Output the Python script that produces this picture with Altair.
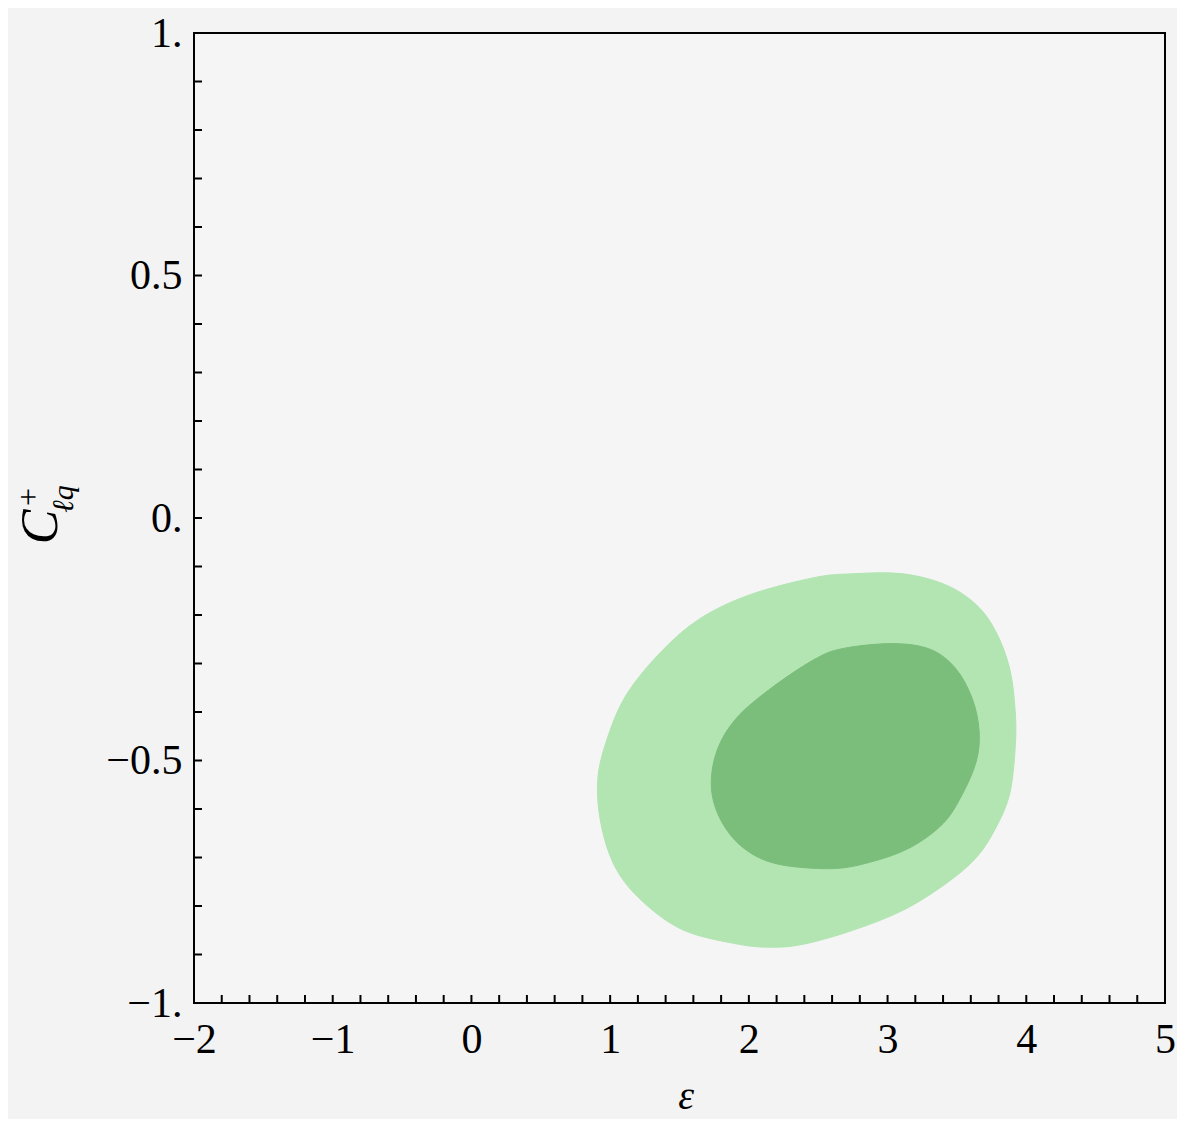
import altair as alt
import pandas as pd

# Outer (light) contour
outer_x = [2.01, 2.47, 2.75, 3.11, 3.42, 3.64, 3.78, 3.88, 3.92, 3.92, 3.88, 3.78, 3.64, 3.42,
           3.11, 2.75, 2.39, 2.14, 1.89, 1.53, 1.25, 1.05, 0.94, 0.91, 0.98, 1.12, 1.37, 1.65]
outer_y = [-0.158, -0.123, -0.115, -0.115, -0.138, -0.179, -0.234, -0.310, -0.398, -0.474,
           -0.569, -0.639, -0.700, -0.754, -0.809, -0.850, -0.879, -0.885, -0.877, -0.850,
           -0.795, -0.727, -0.639, -0.542, -0.454, -0.363, -0.275, -0.207]
# Inner (dark) contour
inner_x = [2.47, 2.68, 3.04, 3.31, 3.49, 3.61, 3.66, 3.64, 3.54, 3.40, 3.16, 2.87, 2.59, 2.20,
           1.96, 1.80, 1.73, 1.77, 1.91, 2.16]
inner_y = [-0.292, -0.269, -0.259, -0.271, -0.310, -0.372, -0.439, -0.501, -0.569, -0.630,
           -0.680, -0.710, -0.723, -0.713, -0.680, -0.624, -0.556, -0.480, -0.413, -0.351]

x_ticks = [-2, -1, 0, 1, 2, 3, 4, 5]
x_labels = ["\u22122", "\u22121", "0", "1", "2", "3", "4", "5"]
y_ticks = [-1, -0.5, 0, 0.5, 1]
y_labels = ["\u22121.", "\u22120.5", "0.", "0.5", "1."]
x_minor = [round(-2 + 0.2 * i, 2) for i in range(36)]
y_minor = [round(-1 + 0.1 * i, 2) for i in range(21)]

W, H = 971, 970
FONT = "Liberation Serif"

xs = alt.Scale(domain=[-2, 5], nice=False, zero=False)
ys = alt.Scale(domain=[-1, 1], nice=False, zero=False)

def label_expr(vals, labs):
    e = "''"
    for v, l in zip(vals, labs):
        e = f"abs(datum.value - ({v})) < 1e-6 ? '{l}' : ({e})"
    return e

outer_df = pd.DataFrame({"x": outer_x, "y": outer_y, "o": range(len(outer_x))})
inner_df = pd.DataFrame({"x": inner_x, "y": inner_y, "o": range(len(inner_x))})

xaxis = alt.Axis(values=x_ticks, labelExpr=label_expr(x_ticks, x_labels), ticks=False, domain=False,
                 grid=False, labelFont=FONT, labelFontSize=42, labelColor="black", labelPadding=16,
                 title=None, labelFlush=False)
yaxis = alt.Axis(values=y_ticks, labelExpr=label_expr(y_ticks, y_labels), ticks=False, domain=False,
                 grid=False, labelFont=FONT, labelFontSize=42, labelColor="black", labelPadding=12,
                 title=None, labelFlush=False)

outer = alt.Chart(outer_df).mark_line(
    fill="#b2e5b2", stroke="#b2e5b2", strokeWidth=1, interpolate="cardinal-closed"
).encode(
    x=alt.X("x:Q", scale=xs, axis=xaxis),
    y=alt.Y("y:Q", scale=ys, axis=yaxis),
    order="o:Q",
)
inner = alt.Chart(inner_df).mark_line(
    fill="#7bbd7b", stroke="#7bbd7b", strokeWidth=1, interpolate="cardinal-closed"
).encode(
    x=alt.X("x:Q", scale=xs),
    y=alt.Y("y:Q", scale=ys),
    order="o:Q",
)

xt = alt.Chart(pd.DataFrame({"x": x_minor})).mark_rule(color="black", strokeWidth=2).encode(
    x=alt.X("x:Q", scale=xs), y=alt.value(H), y2=alt.value(H - 8))
yt = alt.Chart(pd.DataFrame({"y": y_minor})).mark_rule(color="black", strokeWidth=2).encode(
    y=alt.Y("y:Q", scale=ys), x=alt.value(0), x2=alt.value(8))

eps = alt.Chart(pd.DataFrame({"t": ["\u03b5"]})).mark_text(
    font=FONT, fontSize=40, fontStyle="italic", align="center", baseline="bottom"
).encode(text="t:N", x=alt.value(492), y=alt.value(1084))

c_main = alt.Chart(pd.DataFrame({"t": ["C"]})).mark_text(
    font=FONT, fontSize=52, fontStyle="italic", align="center", baseline="alphabetic", angle=270
).encode(text="t:N", x=alt.value(-137), y=alt.value(494))
c_sup = alt.Chart(pd.DataFrame({"t": ["+"]})).mark_text(
    font=FONT, fontSize=32, align="center", baseline="middle", angle=270
).encode(text="t:N", x=alt.value(-165), y=alt.value(464))
c_sub = alt.Chart(pd.DataFrame({"t": ["\u2113q"]})).mark_text(
    font=FONT, fontSize=30, fontStyle="italic", align="center", baseline="middle", angle=270
).encode(text="t:N", x=alt.value(-130), y=alt.value(466))

chart = alt.layer(outer, inner, xt, yt, eps, c_main, c_sup, c_sub).properties(
    width=W, height=H,
    autosize=alt.AutoSizeParams(type="none"),
    padding={"left": 186, "top": 25, "right": 12, "bottom": 116},
    background="#f3f3f3",
).configure_view(stroke="black", strokeWidth=2, fill="#f5f5f5")

chart.save("out.html", embed_options={"renderer": "svg", "actions": False})
